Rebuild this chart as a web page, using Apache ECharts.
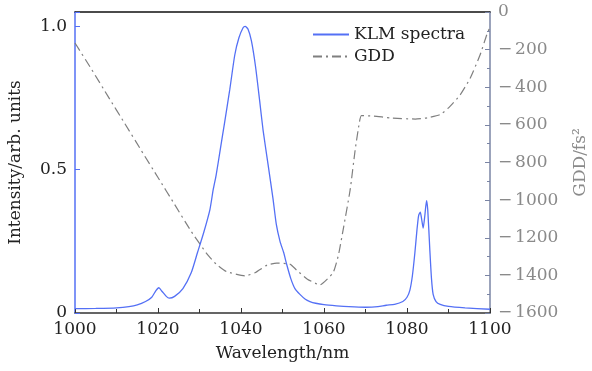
<!DOCTYPE html>
<html><head><meta charset="utf-8">
<script src="https://cdn.jsdelivr.net/npm/echarts@6/dist/echarts.min.js"></script>
<style>html,body{margin:0;padding:0;background:#fff}#c{width:592px;height:371px}</style>
</head><body><div id="c"></div>
<script>
const specWl = [1000,1005,1010,1013,1015,1017,1018.5,1019.5,1020.2,1021,1022,1022.7,1024,1026,1028,1029.5,1031,1032.5,1033.3,1034,1035,1036,1037.3,1038.5,1039.5,1040.5,1041,1041.7,1042.5,1043.5,1044.5,1045.3,1046.5,1047.7,1048.5,1049.4,1050.3,1051,1052,1053,1054.2,1055.5,1056.6,1058,1060,1063,1066,1070,1073,1075,1077,1079,1080,1080.7,1081.3,1081.9,1082.4,1082.8,1083.2,1083.5,1083.9,1084.3,1084.7,1085,1085.5,1085.9,1086.3,1087,1088,1090,1094,1100];
const specVal = [0.015,0.016,0.018,0.022,0.028,0.040,0.055,0.078,0.088,0.075,0.058,0.052,0.058,0.085,0.14,0.21,0.28,0.36,0.43,0.48,0.57,0.66,0.78,0.90,0.96,0.995,1.0,0.99,0.95,0.86,0.74,0.64,0.52,0.40,0.31,0.25,0.21,0.17,0.12,0.085,0.065,0.048,0.040,0.034,0.029,0.025,0.022,0.020,0.022,0.027,0.030,0.040,0.055,0.08,0.13,0.21,0.29,0.34,0.352,0.33,0.296,0.34,0.392,0.36,0.22,0.12,0.065,0.040,0.030,0.023,0.018,0.013];
const gddWl = [1000,1004,1008,1012,1016,1020,1024,1028,1031.7,1034,1036.5,1041,1043.5,1046.3,1048.6,1051.8,1053.4,1056,1059,1062.2,1063.5,1064.6,1066.3,1067.5,1068.5,1069,1072,1076,1082,1085,1088,1090,1092.8,1095.2,1097.6,1099.2,1100];
const gddVal = [-165,-305,-450,-593,-737,-880,-1023,-1166,-1283,-1340,-1380,-1403,-1385,-1345,-1335,-1340,-1372,-1420,-1451,-1385,-1290,-1159,-946,-734,-590,-551,-553,-563,-569,-562,-545,-510,-441,-353,-229,-122,-80];
const xTicks = [1000,1020,1040,1060,1080,1100];
const leftTicks = [0,0.5,1.0];

const FONT = 'DejaVu Serif';
const FS = 17;
const chart = echarts.init(document.getElementById('c'), null, {renderer:'canvas'});
const spec = specWl.map((w,i)=>[w,specVal[i]]);
const gdd = gddWl.map((w,i)=>[w,gddVal[i]]);
chart.setOption({
  animation:false,
  backgroundColor:'#fff',
  textStyle:{fontFamily:FONT},
  grid:{left:75,right:102,top:12,bottom:58,containLabel:false,outerBoundsMode:'none'},
  legend:{
    left:307, top:21, orient:'vertical', itemWidth:36, itemHeight:17, itemGap:5,
    textStyle:{fontFamily:FONT,fontSize:FS,color:'#222'},
    itemStyle:{opacity:0},
    data:['KLM spectra','GDD']
  },
  xAxis:[{
    type:'value', min:1000, max:1100, interval:20,
    name:'Wavelength/nm', nameLocation:'middle', nameGap:32,
    nameTextStyle:{fontFamily:FONT,fontSize:FS,color:'#222'},
    axisLine:{lineStyle:{color:'#333',width:1.5}},
    axisTick:{inside:true,length:5,lineStyle:{color:'#333'}},
    minorTick:{show:true,splitNumber:2,length:4,lineStyle:{color:'#333'}},
    axisLabel:{fontFamily:FONT,fontSize:FS,color:'#222',margin:8,
      formatter:v=>xTicks.includes(v)?String(v):''},
    splitLine:{show:false}
  },{
    type:'value', min:1000, max:1100, position:'top',
    axisLine:{show:true,lineStyle:{color:'#111',width:1.5}},
    axisTick:{show:false}, axisLabel:{show:false}, splitLine:{show:false}
  }],
  yAxis:[{
    type:'value', min:0, max:1.05, interval:0.5,
    name:'Intensity/arb. units', nameLocation:'middle', nameGap:51,
    nameTextStyle:{fontFamily:FONT,fontSize:FS,color:'#222'},
    axisLine:{show:true,lineStyle:{color:'#5470f5',width:1.5}},
    axisTick:{inside:true,length:5,lineStyle:{color:'#5470f5'}},
    axisLabel:{fontFamily:FONT,fontSize:FS,color:'#222',margin:8,showMaxLabel:true,
      formatter:v=>{ if(v===0) return '0'; return leftTicks.some(t=>Math.abs(t-v)<1e-9)?v.toFixed(1):''; }},
    splitLine:{show:false}
  },{
    type:'value', min:-1600, max:0, interval:200, position:'right',
    name:'GDD/fs²', nameLocation:'middle', nameGap:82,
    nameTextStyle:{fontFamily:FONT,fontSize:FS,color:'#8a8a8a'},
    axisLine:{show:true,lineStyle:{color:'#7a84a4',width:1.5}},
    axisTick:{inside:true,length:5,lineStyle:{color:'#7a84a4'}},
    minorTick:{show:true,splitNumber:2,length:3,lineStyle:{color:'#7a84a4'}},
    axisLabel:{fontFamily:FONT,fontSize:FS,color:'#8a8a8a',margin:8,
      formatter:v=> v===0 ? '0' : '\u2212\u2006' + Math.abs(v)},
    splitLine:{show:false}
  }],
  series:[{
    name:'KLM spectra', type:'line', xAxisIndex:0, yAxisIndex:0, data:spec,
    symbol:'none', smooth:0.2, lineStyle:{color:'#5470f5',width:1.3},
    itemStyle:{color:'#5470f5'}, z:3
  },{
    name:'GDD', type:'line', xAxisIndex:0, yAxisIndex:1, data:gdd,
    symbol:'none', smooth:0.15, lineStyle:{color:'#7f7f7f',width:1.2,type:[9,4,2,4]},
    itemStyle:{color:'#7f7f7f'}, z:2
  }]
});
</script></body></html>
